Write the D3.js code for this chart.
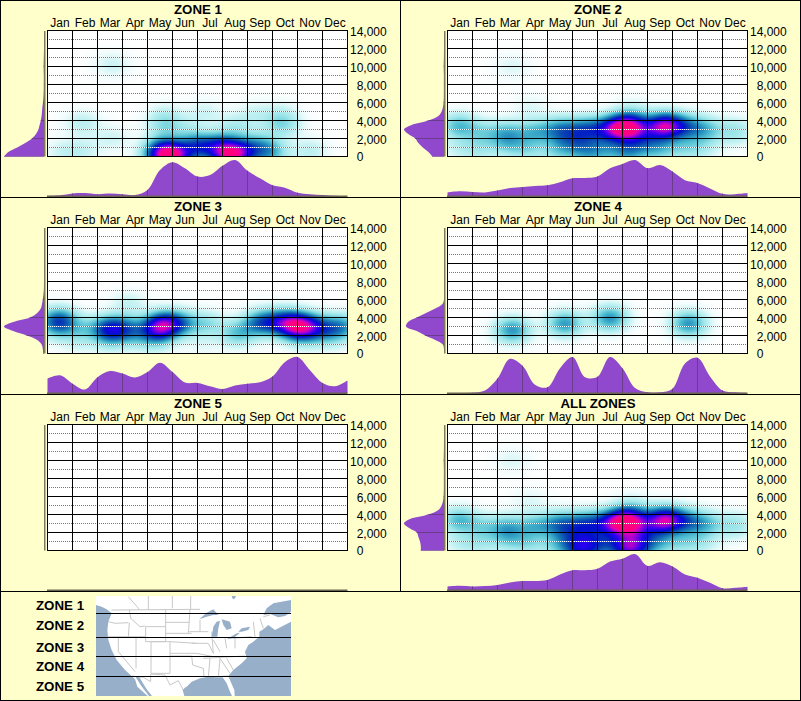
<!DOCTYPE html>
<html><head><meta charset="utf-8">
<script src="https://d3js.org/d3.v7.min.js"></script>
<style>html,body{margin:0;padding:0;background:#FFFFCC;overflow:hidden}svg{display:block}text{font-family:"Liberation Sans",Arial,sans-serif}</style>
</head><body>
<script>
const months = ["Jan","Feb","Mar","Apr","May","Jun","Jul","Aug","Sep","Oct","Nov","Dec"];
const elevTicks = [0,2000,4000,6000,8000,10000,12000,14000];
const halfMonths = d3.range(0,12.01,0.5);
const sideElev = [0,500,1000,1500,2000,2500,3000,3500,4000,4500,5000,5500,6000,7000,8000,9000,10000,11000,12000,13000,14000];

// Month marginals (relative density, half-month steps)
const zone1Month = [0,2,7,8,5,7,5,3,17,72,94,77,54,58,84,100,70,49,30,23,9,5,3,1,0];
const zone2Month = [10,13,11,10,15,22,25,28,30,38,49,50,54,77,89,100,77,86,68,44,36,21,6,5,8];
const zone3Month = [40,49,26,10,44,61,54,43,58,84,58,29,28,19,11,21,26,30,46,86,100,63,28,19,35];
const zone4Month = [0,0,1,7,40,95,76,23,16,69,100,44,45,100,69,14,2,2,12,82,98,46,7,2,0];
const zone5Month = [0,0,0,0,0,0,0,0,0,0,0,0,0,0,0,0,0,0,0,0,0,0,0,0,0];
const allMonth   = [10,12,10,11,14,21,25,25,28,43,55,55,59,79,87,100,67,77,65,43,34,20,5,6,9];

// Elevation marginals (relative density at sideElev)
const zone1Side = [100,89,67,47,30,20,14,11,8,6,5,4,2.5,1,0.5,0.5,1,0.5,0,0,0];
const zone2Side = [29,39,53,64,72,89,100,81,39,14,6,2.5,1,0.4,0.3,0.3,0.8,0.3,0,0,0];
const zone3Side = [2,3,6,17,43,77,100,77,35,17,8,5,3,0.5,0,0,0,0,0,0,0];
const zone4Side = [0,0,3,22,47,68,95,90,68,45,22,4,0,0,0,0,0,0,0,0,0];
const zone5Side = sideElev.map(()=>0);
const allSide   = [58,58,60,64,68,87,100,85,39,14,6,2.5,1,0.4,0.3,0.3,0.8,0.3,0,0,0];

// Density sources [month position, elevation, weight]
const zone1Heat = [[0.6,500,.07],[1.4,600,.08],[1.4,3700,.1],[2.6,10200,.075],[2.6,2000,.07],[4.7,3500,.15],[4.7,4700,.06],[4.5,100,.32],[5,100,.76],[4.6,1000,.2],[6,1100,.4],[6.9,1100,.4],[7.35,100,.68],[7.9,700,.3],[5.6,3000,.07],[6.3,4900,.07],[7.5,3300,.11],[8.3,4700,.07],[9.4,3600,.18],[9.3,4900,.05],[8.5,1500,.13],[8.9,400,.26],[10.5,600,.1]];
const zone2Heat = [[0.45,3400,.25],[0.5,900,.08],[1.4,2700,.14],[1.3,800,.1],[2.4,2600,.22],[2.4,1300,.14],[3.5,2700,.22],[3.2,700,.13],[3.3,5500,.05],[4.5,3000,.3],[4.4,500,.14],[4.8,1700,.14],[5.5,3000,.34],[5.4,1300,.18],[5.6,0,.15],[6.4,3000,.32],[6.9,3200,.3],[6.3,800,.17],[7.1,3100,.38],[7.45,3400,.38],[7.6,1700,.2],[7.2,400,.24],[7.4,5000,.07],[8.7,3400,.7],[8.3,2700,.14],[8.4,800,.2],[9.5,3300,.28],[9.4,900,.13],[10.3,3000,.22],[10.2,1000,.1],[11.5,2400,.07],[11.5,3100,.09],[2.6,10000,.055]];
const zone3Heat = [[0.45,3700,.4],[0.4,2700,.13],[1.4,2800,.13],[1.2,1300,.06],[2.5,2700,.5],[3.2,3000,.18],[3.4,2000,.13],[3.25,5600,.08],[4.55,3000,.6],[4.2,2300,.15],[4.9,3500,.18],[5.4,3300,.22],[6.4,3300,.16],[6.2,1000,.04],[7.6,2200,.22],[8.4,3300,.22],[8.8,3500,.24],[9.5,3500,.36],[10,3000,.62],[10.5,3000,.3],[11.1,2700,.22],[11.8,3000,.28],[2.5,1300,.08],[4.3,1200,.08],[10.3,1500,.07],[11.4,1500,.06]];
const zone4Heat = [[2.6,2600,.33],[4.7,3300,.32],[6.5,3900,.33],[9.65,3300,.33]];
const zone5Heat = [];
const allExtra = [[5.3,0,.3],[7.4,0,.38],[5.8,900,.08],[6.8,900,.08],[7.4,1500,.1]];
const allHeat = zone2Heat.concat(allExtra);

const panels = [
 {title:"ZONE 1",col:0,row:0,m:zone1Month,s:zone1Side,h:zone1Heat},
 {title:"ZONE 2",col:1,row:0,m:zone2Month,s:zone2Side,h:zone2Heat},
 {title:"ZONE 3",col:0,row:1,m:zone3Month,s:zone3Side,h:zone3Heat},
 {title:"ZONE 4",col:1,row:1,m:zone4Month,s:zone4Side,h:zone4Heat},
 {title:"ZONE 5",col:0,row:2,m:zone5Month,s:zone5Side,h:zone5Heat},
 {title:"ALL ZONES",col:1,row:2,m:allMonth,s:allSide,h:allHeat}
];

const zoneLabels = ["ZONE 1","ZONE 2","ZONE 3","ZONE 4","ZONE 5"];
const zoneLabelY = [610,630,652,671,691];
const zoneCutY = [70,143,200,259];

// Basemap outlines (traced in image units 288..873, 18..318)
const waterShapes = [
 [[288,45],[305,50],[320,58],[335,70],[325,95],[322,120],[325,150],[335,180],[350,210],[375,240],[395,258],[405,268],[412,290],[432,308],[443,318],[288,318]],
 [[405,258],[418,262],[440,298],[456,318],[447,318],[424,288]],
 [[553,318],[548,300],[560,290],[575,275],[600,265],[625,260],[650,262],[668,262],[680,280],[690,305],[696,318]],
 [[704,318],[703,300],[692,275],[685,258],[700,240],[725,220],[740,205],[735,185],[745,165],[760,155],[778,140],[778,125],[790,118],[805,105],[825,120],[873,95],[873,318]],
 [[790,75],[800,55],[820,40],[873,30],[873,65],[855,78],[835,82],[810,72]],
 [[695,18],[708,18],[703,28],[698,26]],
 [[598,88],[620,68],[640,58],[655,75],[640,75],[620,80]],
 [[635,140],[640,110],[650,95],[660,92],[655,115],[652,140]],
 [[665,88],[690,95],[695,115],[680,120],[670,105]],
 [[680,148],[710,130],[720,128],[700,145]],
 [[715,125],[725,115],[750,110],[745,120],[725,125]]
];
const borderLines = [
 [[335,60],[600,58]],[[445,18],[445,60]],[[517,18],[517,55]],[[572,18],[572,60]],[[385,20],[418,58]],
 [[388,60],[392,85],[420,110],[435,108]],[[325,95],[345,100],[385,98]],[[325,140],[435,140]],[[388,98],[385,140]],
 [[437,110],[497,110],[497,155],[437,155],[437,110]],[[497,60],[497,110]],[[497,97],[568,97]],[[497,130],[575,130]],[[510,155],[590,160]],
 [[453,155],[510,155],[510,250],[453,250],[453,155]],[[453,200],[510,200]],[[408,140],[408,235]],[[355,140],[355,185],[405,245]],
 [[395,258],[430,262],[452,275],[452,252],[495,255],[510,285],[535,272],[550,300],[558,290]],
 [[510,198],[575,198],[578,225],[610,235],[612,260]],[[510,190],[590,190]],
 [[570,60],[565,130]],[[600,90],[600,125]],[[568,125],[625,125]],[[575,160],[625,160]],[[590,190],[640,200]],[[625,160],[640,190]],
 [[635,125],[640,190]],[[675,145],[680,175]],[[610,205],[735,198]],[[640,150],[660,185]],[[630,205],[625,262]],[[660,205],[655,262]],
 [[660,205],[690,250]],[[680,205],[700,240]],[[650,260],[685,258]],[[700,145],[755,140]],[[760,95],[765,140]],[[780,85],[790,115]],[[790,80],[810,75]],[[705,145],[705,175]]
];

const W=801,H=701;
const svg=d3.select("body").append("svg").attr("width",W).attr("height",H);
svg.append("rect").attr("width",W).attr("height",H).attr("fill","#FFFFCC");

const heatColor=d3.scaleLinear()
 .domain([0,.035,.08,.17,.27,.37,.47,.57,.67,.77,.87,.97])
 .range(["#ffffff","#ecfbfb","#c8f3f4","#98e4e8","#4cbcd0","#1a80b8","#0a48b0","#0010cc","#2800f0","#8000e0","#e000b8","#ff0080"])
 .clamp(true);

const sx=0.5, sy=1000;
const fillC="#9048CC", lineC="#6A3C8C";

panels.forEach((p,i)=>{
 const ox=p.col*400, oy=p.row*197;
 const g=svg.append("g").attr("transform",`translate(${ox},${oy})`);
 const x=d3.scaleLinear().domain([0,12]).range([47.5,347.5]);
 const y=d3.scaleLinear().domain([0,14000]).range([156.5,30.5]);
 const band=d3.scaleBand().domain(months).range([47.5,347.5]);

 g.append("text").attr("x",198).attr("y",14).attr("text-anchor","middle")
  .attr("font-size",13.3).attr("font-weight","bold").attr("fill","#000").text(p.title);

 // left marginal
 const sideX=d3.scaleLinear().domain([0,100]).range([44,4]).clamp(true);
 const sideArea=d3.area().y(d=>y(d[0])).x0(sideX(0)).x1(d=>sideX(d[1])).curve(d3.curveCatmullRom);
 const sideData=sideElev.map((e,k)=>[e,p.s[k]]);
 g.append("clipPath").attr("id",`sc${i}`).append("path").attr("d",sideArea(sideData));
 g.append("path").attr("d",sideArea(sideData)).attr("fill",fillC);
 g.append("g").attr("clip-path",`url(#sc${i})`).selectAll("line").data(elevTicks).join("line")
  .attr("x1",sideX(100)).attr("x2",sideX(0)).attr("y1",d=>y(d)).attr("y2",d=>y(d)).attr("stroke",lineC);
 g.append("rect").attr("x",44).attr("y",31).attr("width",1.5).attr("height",125.5).attr("fill","#807860");

 // bottom marginal
 const monY=d3.scaleLinear().domain([0,100]).range([196,160]);
 const monArea=d3.area().x((d,k)=>x(halfMonths[k])).y0(monY(0)).y1(d=>monY(d)).curve(d3.curveCatmullRom);
 g.append("clipPath").attr("id",`mc${i}`).append("path").attr("d",monArea(p.m));
 g.append("path").attr("d",monArea(p.m)).attr("fill",fillC);
 g.append("g").attr("clip-path",`url(#mc${i})`).selectAll("line").data(d3.range(1,12)).join("line")
  .attr("x1",d=>x(d)).attr("x2",d=>x(d)).attr("y1",158).attr("y2",196).attr("stroke",lineC);
 g.append("rect").attr("x",47).attr("y",195.5).attr("width",300.5).attr("height",1.5).attr("fill","#6a6450");

 // heat
 const pw=300,ph=126;
 const cv=document.createElement("canvas");cv.width=pw;cv.height=ph;
 const ctx=cv.getContext("2d");const img=ctx.createImageData(pw,ph);
 for(let py=0;py<ph;py++){for(let px=0;px<pw;px++){
  const mv=x.invert(47.5+px+0.5), ev=y.invert(30.5+py+0.5);
  let v=0;
  p.h.forEach(o=>{const a=(mv-o[0])/sx,b=(ev-o[1])/sy;v+=o[2]*Math.exp(-0.5*(a*a+b*b));});
  const c=d3.rgb(heatColor(v));const q=(py*pw+px)*4;
  img.data[q]=c.r;img.data[q+1]=c.g;img.data[q+2]=c.b;img.data[q+3]=255;
 }}
 ctx.putImageData(img,0,0);
 g.append("image").attr("x",47.5).attr("y",30.5).attr("width",pw).attr("height",ph).attr("href",cv.toDataURL());

 // dotted odd-thousand lines
 const odd=d3.range(1000,14000,2000);
 [["#ffffff",0],["#777777",1]].forEach(([c,off])=>{
  g.append("g").selectAll("line").data(odd).join("line")
   .attr("x1",48).attr("x2",347).attr("y1",d=>Math.floor(y(d))+0.5).attr("y2",d=>Math.floor(y(d))+0.5)
   .attr("stroke",c).attr("stroke-dasharray","1 1").attr("stroke-dashoffset",off);
 });
 // solid grid
 g.append("g").selectAll("line").data(elevTicks).join("line")
  .attr("x1",47).attr("x2",348).attr("y1",d=>y(d)).attr("y2",d=>y(d)).attr("stroke","#000");
 g.append("g").selectAll("line").data(d3.range(0,13)).join("line")
  .attr("x1",d=>x(d)).attr("x2",d=>x(d)).attr("y1",30).attr("y2",157).attr("stroke","#000");

 // month labels
 const topAxis=d3.axisTop(band).tickSize(0).tickPadding(0);
 const ta=g.append("g").attr("transform","translate(0,27)").call(topAxis);
 ta.select(".domain").remove();
 ta.selectAll("text").attr("font-size",12).attr("font-family",null).attr("fill","#000").attr("dy",0).attr("y",0);

 // elevation labels
 const rightAxis=d3.axisRight(y).tickValues(elevTicks).tickFormat(d3.format(",")).tickSize(0);
 const ra=g.append("g").call(rightAxis);
 ra.select(".domain").remove();
 ra.selectAll("text").attr("font-size",12).attr("font-family",null).attr("fill","#000").attr("text-anchor","start")
  .attr("dy",0).attr("x",d=>d>=10000?350:356.7).attr("y",d=>d===0?3.5:4.5);
});

// legend map
const mapG=svg.append("g");
const mx=d3.scaleLinear().domain([288,873]).range([96,291]);
const my=d3.scaleLinear().domain([18,318]).range([596,696]);
const ml=d3.line().x(d=>mx(d[0])).y(d=>my(d[1]));
mapG.append("rect").attr("x",mx(288)).attr("y",my(18)).attr("width",mx(873)-mx(288)).attr("height",my(318)-my(18)).attr("fill","#fff");
mapG.selectAll("path.border").data(borderLines).join("path").attr("class","border").attr("d",ml).attr("fill","none").attr("stroke","#c8c8c8").attr("stroke-width",1);
mapG.selectAll("path.water").data(waterShapes).join("path").attr("class","water").attr("d",d=>ml(d)+"Z").attr("fill","#97AFC9");
mapG.selectAll("line").data(zoneCutY).join("line").attr("x1",mx(288)).attr("x2",mx(873)).attr("y1",d=>Math.floor(my(d))+0.5).attr("y2",d=>Math.floor(my(d))+0.5).attr("stroke","#000");
svg.append("g").selectAll("text").data(zoneLabels).join("text").attr("x",36).attr("y",(d,i)=>zoneLabelY[i])
 .attr("font-size",13.3).attr("font-weight","bold").attr("fill","#000").text(d=>d);

// frame
const frame=svg.append("g").attr("stroke","#000").attr("fill","none");
frame.append("rect").attr("x",0.5).attr("y",0.5).attr("width",800).attr("height",700);
[197.5,394.5,591.5].forEach(v=>frame.append("line").attr("x1",0).attr("x2",801).attr("y1",v).attr("y2",v));
frame.append("line").attr("x1",400.5).attr("x2",400.5).attr("y1",0).attr("y2",591.5);
</script>
</body></html>
